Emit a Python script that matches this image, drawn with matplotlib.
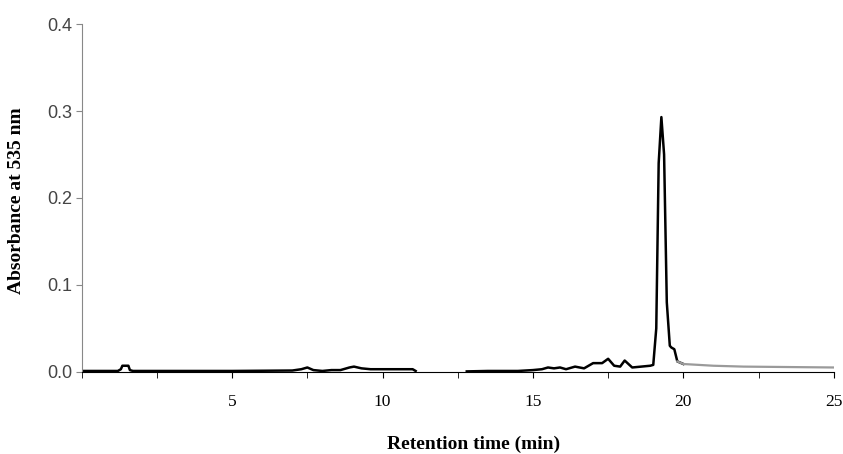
import numpy as np
import matplotlib
matplotlib.use("Agg")
import matplotlib.pyplot as plt
from matplotlib.ticker import MultipleLocator

# Chromatogram trace (NaN marks the gap in the recording)
time_min = [0.0, 1.2, 1.3, 1.35, 1.55, 1.6, 1.7, 2.5, 5.0, 7.0, 7.3, 7.5, 7.7,
            8.0, 8.3, 8.6, 8.9, 9.05, 9.3, 9.6, 10.0, 10.5, 11.0, 11.1,
            11.2,
            12.8, 13.5, 14.5, 15.0, 15.3, 15.5, 15.7, 15.9, 16.1, 16.4, 16.7,
            17.0, 17.3, 17.5, 17.7, 17.9, 18.05, 18.3, 18.6, 18.9, 19.0, 19.1,
            19.18, 19.27, 19.36, 19.45, 19.55, 19.6, 19.7, 19.8,
            20.0, 20.5, 21.0, 22.0, 25.0]
absorbance = [0.001, 0.001, 0.003, 0.007, 0.007, 0.002, 0.001, 0.001, 0.001, 0.0015, 0.003, 0.005, 0.002,
              0.001, 0.002, 0.002, 0.005, 0.006, 0.004, 0.003, 0.003, 0.003, 0.003, 0.001,
              np.nan,
              0.0005, 0.001, 0.001, 0.002, 0.003, 0.005, 0.004, 0.005, 0.003, 0.006, 0.004,
              0.010, 0.010, 0.015, 0.007, 0.006, 0.013, 0.005, 0.006, 0.007, 0.008, 0.05,
              0.24, 0.293, 0.25, 0.08, 0.03, 0.028, 0.026, 0.012,
              0.009, 0.008, 0.007, 0.006, 0.005]
tail_start = 20.0  # after the peak the trace is drawn in grey

x_ticks = [5, 10, 15, 20, 25]
y_ticks = [0.0, 0.1, 0.2, 0.3, 0.4]

t = np.array(time_min)
a = np.array(absorbance)
main = t <= tail_start
tail = t >= 19.8

fig = plt.figure(figsize=(8.43, 4.54), dpi=100)
ax = fig.add_axes([0.097, 0.181, 0.892, 0.766])

ax.plot(t[main], a[main], color="black", linewidth=1.8)
ax.plot(t[tail], a[tail], color="#9a9a9a", linewidth=1.6)

ax.set_xlim(0, 25)
ax.set_ylim(0, 0.4)
ax.set_xticks(x_ticks)
ax.xaxis.set_minor_locator(MultipleLocator(2.5))
ax.set_yticks(y_ticks)
ax.set_yticklabels([f"{v:.1f}" for v in y_ticks], fontfamily="Liberation Sans",
                   fontsize=13, color="#444444")
ax.set_xticklabels([str(v) for v in x_ticks], fontfamily="Liberation Serif", fontsize=12.5)

ax.spines["top"].set_visible(False)
ax.spines["right"].set_visible(False)
ax.spines["left"].set_color("#888888")
ax.spines["bottom"].set_color("black")
ax.tick_params(axis="x", which="both", direction="out", length=4, pad=12)
ax.tick_params(axis="y", direction="out", length=4, color="#888888", pad=3)

# axis titles placed where they sit in the original figure
fig.text(474 / 843, 1 - 444 / 454, "Retention time (min)", ha="center", va="center",
         fontfamily="Liberation Serif", fontweight="bold", fontsize=14)
fig.text(17 / 843, 1 - 201 / 454, "Absorbance at 535 nm", ha="center", va="center",
         rotation=90, fontfamily="Liberation Serif", fontweight="bold", fontsize=14)

fig.savefig("out.png", dpi=100)
